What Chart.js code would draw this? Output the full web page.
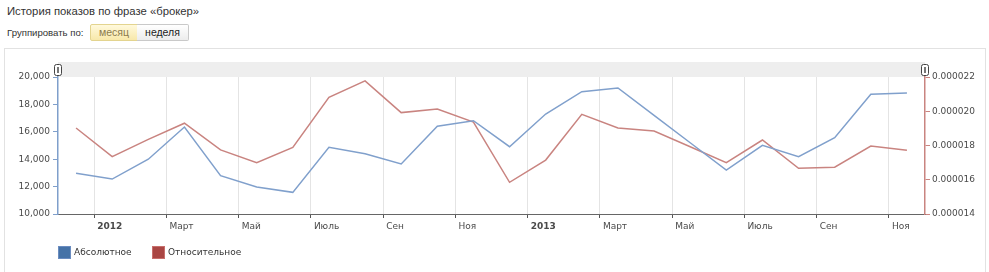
<!DOCTYPE html>
<html>
<head>
<meta charset="utf-8">
<script src="https://cdn.jsdelivr.net/npm/chart.js@4/dist/chart.umd.min.js"></script>
<style>
  body { margin: 0; background: #fff; font-family: "Liberation Sans", Arial, sans-serif; }
  #wrap { position: relative; width: 989px; height: 272px; overflow: hidden; }
  #box { position: absolute; left: 4px; top: 48px; width: 980px; height: 240px; border: 1px solid #e2e2e2; }
  #title { position: absolute; left: 7px; top: 5px; font-size: 11.3px; color: #333; }
  #group { position: absolute; left: 7px; top: 27px; font-size: 9.6px; color: #333; }
  .btn { position: absolute; top: 24px; height: 15px; line-height: 15px; font-size: 10.5px; text-align: center; box-sizing: content-box; }
  #b1 { left: 90px; width: 46px; background: linear-gradient(#fff9dc, #f8e8aa); border: 1px solid #e3d48f; color: #8c7b4c; border-radius: 2px 0 0 2px; }
  #b2 { left: 137px; width: 51px; background: linear-gradient(#ffffff, #ececec); border: 1px solid #c9c9c9; border-left: none; color: #222; border-radius: 0 2px 2px 0; }
  canvas { position: absolute; left: 0; top: 0; }
  .leg { position: absolute; top: 246px; font-family: "DejaVu Sans", Verdana, sans-serif; font-size: 9px; color: #333; line-height: 12px; }
  .leg i { position: absolute; left: -16px; top: 0; width: 11px; height: 11px; border: 1px solid; }
</style>
</head>
<body>
<div id="wrap">
  <div id="box"></div>
  <div id="title">История показов по фразе «брокер»</div>
  <div id="group">Группировать по:</div>
  <div class="btn" id="b1">месяц</div>
  <div class="btn" id="b2">неделя</div>
  <canvas id="chart" width="989" height="272"></canvas>
  <div class="leg" style="left:74px"><i style="background:#4572a7;border-color:#6a8cc0"></i>Абсолютное</div>
  <div class="leg" style="left:168px"><i style="background:#aa4643;border-color:#c86f6c"></i>Относительное</div>
</div>
<script>
// months Dec 2011 .. Nov 2013
const months = ['2011-12', '2012-01', '2012-02', '2012-03', '2012-04', '2012-05', '2012-06', '2012-07',
  '2012-08', '2012-09', '2012-10', '2012-11', '2012-12', '2013-01', '2013-02', '2013-03', '2013-04',
  '2013-05', '2013-06', '2013-07', '2013-08', '2013-09', '2013-10', '2013-11'];
const absolute = [12970, 12550, 14000, 16350, 12800, 11970, 11580, 14870, 14400, 13650, 16400, 16810,
  14910, 17300, 18930, 19200, 17200, 15200, 13210, 15010, 14180, 15570, 18740, 18830];
const relative = [0.00001902, 0.00001735, 0.00001836, 0.00001930, 0.00001774, 0.00001700, 0.00001789, 0.00002081,
  0.00002177, 0.00001992, 0.00002013, 0.00001937, 0.00001585, 0.00001715, 0.00001982, 0.00001902,
  0.00001885, 0.00001793, 0.00001700, 0.00001832, 0.00001667, 0.00001673, 0.00001797, 0.00001772];
const tickLabels = ['2012', 'Март', 'Май', 'Июль', 'Сен', 'Ноя', '2013', 'Март', 'Май', 'Июль', 'Сен', 'Ноя'];
const tickMonths = ['2012-01', '2012-03', '2012-05', '2012-07', '2012-09', '2012-11',
  '2013-01', '2013-03', '2013-05', '2013-07', '2013-09', '2013-11'];

const font = '"DejaVu Sans", Verdana, sans-serif';

// gray navigator band with handles above the plot
const navigator = {
  id: 'navigator',
  beforeDraw(chart) {
    const { ctx, chartArea: a } = chart;
    ctx.save();
    ctx.fillStyle = '#eeeeee';
    ctx.fillRect(a.left, a.top - 15, a.right - a.left, 15);
    [a.left, a.right].forEach(x => {
      ctx.fillStyle = '#fff';
      ctx.strokeStyle = '#444';
      ctx.lineWidth = 1;
      ctx.beginPath();
      ctx.roundRect(x - 3.5, a.top - 12.5, 7, 11, 2);
      ctx.fill();
      ctx.stroke();
      ctx.fillStyle = '#777';
      ctx.fillRect(x - 1, a.top - 10, 2, 6);
    });
    ctx.restore();
  }
};

new Chart(document.getElementById('chart'), {
  type: 'line',
  data: {
    datasets: [{
      label: 'Абсолютное',
      data: absolute.map((v, i) => ({ x: i + 0.5, y: v })),
      borderColor: '#80a0cc',
      borderWidth: 1.5,
      pointRadius: 0,
      tension: 0,
      yAxisID: 'y'
    }, {
      label: 'Относительное',
      data: relative.map((v, i) => ({ x: i + 0.5, y: v })),
      borderColor: '#c98480',
      borderWidth: 1.5,
      pointRadius: 0,
      tension: 0,
      yAxisID: 'y1'
    }]
  },
  options: {
    responsive: false,
    animation: false,
    layout: { padding: { top: 77, left: 0, right: 0, bottom: 0 } },
    plugins: { legend: { display: false }, tooltip: { enabled: false } },
    scales: {
      x: {
        type: 'linear',
        min: 0,
        max: months.length,
        afterBuildTicks: s => { s.ticks = tickMonths.map(m => ({ value: months.indexOf(m) })); },
        afterFit: s => { s.height = 58; },
        grid: { color: '#e4e4e4', tickColor: '#555', tickLength: 4 },
        border: { color: '#666', width: 1 },
        ticks: {
          align: 'start',
          labelOffset: 3,
          padding: 3,
          color: '#4a4a4a',
          callback: v => tickLabels[tickMonths.indexOf(months[v])],
          font: c => ({ family: font, size: 9, weight: /^20/.test(c.tick && c.tick.label) ? 'bold' : 'normal' })
        }
      },
      y: {
        position: 'left',
        min: 10000,
        max: 20000,
        afterFit: s => { s.width = 58; },
        grid: { drawOnChartArea: false, tickColor: '#7f9fcb', tickLength: 5 },
        border: { color: '#7f9fcb', width: 1.5 },
        ticks: {
          stepSize: 2000,
          padding: 3,
          color: '#4a4a4a',
          font: { family: font, size: 9 },
          callback: v => v.toLocaleString('en-US')
        }
      },
      y1: {
        position: 'right',
        min: 0.000014,
        max: 0.000022,
        afterFit: s => { s.width = 64; },
        grid: { drawOnChartArea: false, tickColor: '#c98480', tickLength: 5 },
        border: { color: '#c98480', width: 1.5 },
        ticks: {
          stepSize: 0.000002,
          padding: 2,
          color: '#4a4a4a',
          font: { family: font, size: 9 },
          callback: v => v.toFixed(6)
        }
      }
    }
  },
  plugins: [navigator]
});
</script>
</body>
</html>
